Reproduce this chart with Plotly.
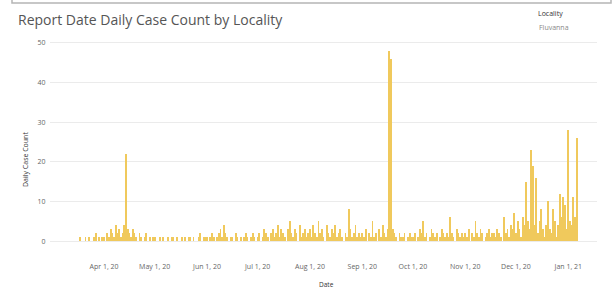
import pandas as pd
import plotly.graph_objects as go

# Daily case counts (Fluvanna), Mar 17 2020 .. Jan 6 2021
mar = [0,1,0,0,1,0,1,0,0,1,2,0,1,0,1]                      # Mar 17-31
apr = [1,0,2,1,3,2,1,4,2,3,1,2,4,22,3,2,1,3,2,1,0,2,1,0,1,2,0,1,0,1]
may = [1,0,0,1,0,1,0,0,1,0,1,1,0,1,0,0,1,0,1,0,1,1,0,1,0,0,1,2,0,1,1]
jun = [1,0,1,2,1,0,1,2,3,1,4,2,1,0,1,1,0,2,1,0,1,0,1,2,1,0,1,2,1,0]
jul = [1,2,0,1,3,2,1,0,2,3,1,2,4,1,3,2,1,0,3,5,2,1,3,2,0,4,1,2,3,1,2]
aug = [3,1,4,2,1,5,2,3,1,0,4,2,1,3,2,4,1,2,3,1,0,2,1,8,3,1,2,4,1,2,1]
sep = [2,1,3,0,2,1,5,1,2,0,3,1,4,2,1,3,48,46,3,2,1,0,2,1,1,2,0,1,2,1]
oct_ = [1,2,0,1,3,2,5,1,2,0,1,3,2,1,2,0,1,3,2,1,2,1,6,2,1,0,3,2,1,2,1]
nov = [2,1,3,0,2,1,5,2,1,3,2,0,1,2,3,1,2,2,1,3,2,1,0,6,2,3,1,4,3,7]
dec = [2,5,3,1,6,4,15,5,3,23,19,4,16,2,5,8,3,1,4,10,3,2,8,5,1,4,12,6,11,9,3]
jan = [28,5,4,11,6,26]

values = mar + apr + may + jun + jul + aug + sep + oct_ + nov + dec + jan
dates = pd.date_range("2020-03-17", periods=len(values), freq="D")

tick_dates = ["2020-04-01", "2020-05-01", "2020-06-01", "2020-07-01", "2020-08-01",
              "2020-09-01", "2020-10-01", "2020-11-01", "2020-12-01", "2021-01-01"]
tick_labels = ["Apr 1, 20", "May 1, 20", "Jun 1, 20", "Jul 1, 20", "Aug 1, 20",
               "Sep 1, 20", "Oct 1, 20", "Nov 1, 20", "Dec 1, 20", "Jan 1, 21"]
y_ticks = [0, 10, 20, 30, 40, 50]

W, H = 614, 290
L, R, T, B = 50, 17, 35, 41
PW, PH = W - L - R, H - T - B

def px(x):
    return (x - L) / PW

def py(y):
    return (H - B - y) / PH

fig = go.Figure()
fig.add_trace(go.Bar(
    x=dates, y=values,
    width=0.5 * 86400000,
    marker=dict(color="#F0C95C", line=dict(width=0)),
    showlegend=False,
))

FONT = "Open Sans"
fig.update_layout(
    width=W, height=H,
    margin=dict(l=L, r=R, t=T, b=B),
    paper_bgcolor="white", plot_bgcolor="white",
    font=dict(family=FONT, color="#666666", size=7),
    bargap=0,
    title=dict(text="Report Date Daily Case Count by Locality",
               x=18 / W, xref="container", xanchor="left",
               y=1 - 20 / H, yref="container", yanchor="middle",
               font=dict(family=FONT, size=14, color="#555555")),
    xaxis=dict(
        type="date",
        range=["2020-02-29", "2021-01-18"],
        tickvals=tick_dates, ticktext=tick_labels,
        ticks="outside", ticklen=11, tickcolor="rgba(0,0,0,0)",
        showgrid=False, zeroline=False, showline=False,
        automargin=False,
        tickfont=dict(size=7, color="#666666"),
    ),
    yaxis=dict(
        range=[-2, 52],
        tickvals=y_ticks,
        showgrid=True, gridcolor="#EBEBEB", gridwidth=1,
        zeroline=False, showline=False,
        automargin=False,
        ticks="outside", ticklen=2, tickcolor="rgba(0,0,0,0)",
        tickfont=dict(size=7, color="#666666"),
    ),
    shapes=[
        dict(type="rect", xref="paper", yref="paper",
             x0=px(12), x1=px(611), y0=py(3), y1=py(-12),
             line=dict(color="#B5B5B5", width=1.5)),
    ],
    annotations=[
        dict(text="Daily Case Count", textangle=-90, showarrow=False,
             xref="paper", yref="paper", x=px(25), y=py(160),
             xanchor="center", yanchor="middle",
             font=dict(family=FONT, size=7, color="#333333")),
        dict(text="Date", showarrow=False,
             xref="paper", yref="paper", x=px(326), y=py(284),
             xanchor="center", yanchor="middle",
             font=dict(family=FONT, size=6.5, color="#333333")),
        dict(text="Locality", showarrow=False,
             xref="paper", yref="paper", x=px(536), y=py(13),
             xanchor="left", yanchor="middle",
             font=dict(family=FONT, size=7, color="#333333")),
        dict(text="Fluvanna", showarrow=False,
             xref="paper", yref="paper", x=px(537), y=py(27),
             xanchor="left", yanchor="middle",
             font=dict(family=FONT, size=7, color="#888888")),
    ],
)

fig.write_html("out.html", config={"displayModeBar": False},
               post_script="document.body.style.margin='0';")
